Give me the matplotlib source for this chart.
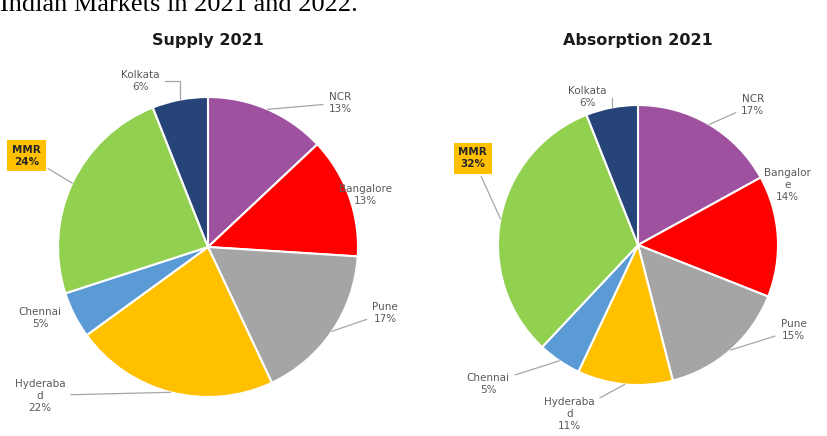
import numpy as np
import matplotlib.pyplot as plt

# city shares (%), clockwise from 12 o'clock
cities = ['NCR', 'Bangalore', 'Pune', 'Hyderabad', 'Chennai', 'MMR', 'Kolkata']
supply_2021 = [13, 13, 17, 22, 5, 24, 6]
absorption_2021 = [17, 14, 15, 11, 5, 32, 6]

# how the names wrap in the data labels
supply_names = ['NCR', 'Bangalore', 'Pune', 'Hyderaba\nd', 'Chennai', 'MMR', 'Kolkata']
absorption_names = ['NCR', 'Bangalor\ne', 'Pune', 'Hyderaba\nd', 'Chennai', 'MMR', 'Kolkata']

colors = ['#9E519F', '#FF0000', '#A5A5A5', '#FFC000', '#5B9BD5', '#92D050', '#264478']

# label placement, in pie radii from the centre, and whether it has a leader line
supply_pos = [(0.88, 0.96, True), (1.05, 0.35, False), (1.18, -0.44, True),
              (-1.12, -0.99, True), (-1.12, -0.47, False), (-1.21, 0.61, True),
              (-0.45, 1.11, True)]
absorption_pos = [(0.82, 1.00, True), (1.07, 0.43, False), (1.11, -0.61, True),
                  (-0.49, -1.21, True), (-1.07, -0.99, True), (-1.18, 0.62, True),
                  (-0.36, 1.06, True)]

plt.rcParams['font.family'] = ['DejaVu Sans']

W, H = 828, 436
fig = plt.figure(figsize=(W / 100, H / 100), dpi=100)


def draw_pie(cx, cy, r, values, names, pos, title):
    ax = fig.add_axes([(cx - r) / W, (H - cy - r) / H, 2 * r / W, 2 * r / H])
    wedges, _ = ax.pie(values, colors=colors, startangle=90, counterclock=False,
                       radius=1, wedgeprops=dict(edgecolor='white', linewidth=1.5))
    ax.set_xlim(-1, 1)
    ax.set_ylim(-1, 1)
    ax.set_aspect('equal')
    ax.axis('off')
    for w, name, val, (tx, ty, lead) in zip(wedges, names, values, pos):
        mid = np.deg2rad((w.theta1 + w.theta2) / 2)
        edge = (np.cos(mid), np.sin(mid))
        label = '%s\n%d%%' % (name, val)
        if name == 'MMR':
            kw = dict(fontweight='bold', color='#262626',
                      bbox=dict(boxstyle='square,pad=0.45', fc='#FFC000', ec='none'))
        else:
            kw = dict(color='#595959')
        conn = 'arc3'
        if name == 'Kolkata':
            conn = 'angle,angleA=0,angleB=90,rad=0'
        arrow = dict(arrowstyle='-', color='#A6A6A6', lw=0.9, shrinkA=2, shrinkB=0,
                     connectionstyle=conn) if lead else None
        ax.annotate(label, xy=edge, xytext=(tx, ty), ha='center', va='center',
                    fontsize=7.5, linespacing=1.25, arrowprops=arrow,
                    annotation_clip=False, **kw)
    fig.text(cx / W, 1 - 40 / H, title, ha='center', va='center',
             fontsize=11.5, fontweight='bold', color='#1a1a1a')


draw_pie(208, 247, 150, supply_2021, supply_names, supply_pos, 'Supply 2021')
draw_pie(638, 245, 140, absorption_2021, absorption_names, absorption_pos, 'Absorption 2021')

# cropped line of body text above the charts
fig.text(358 / W, 1 - 11 / H, 'Indian Markets in 2021 and 2022.', ha='right', va='baseline',
         fontsize=19, family='Liberation Serif', color='black')

fig.savefig('out.png', dpi=100, facecolor='white')
